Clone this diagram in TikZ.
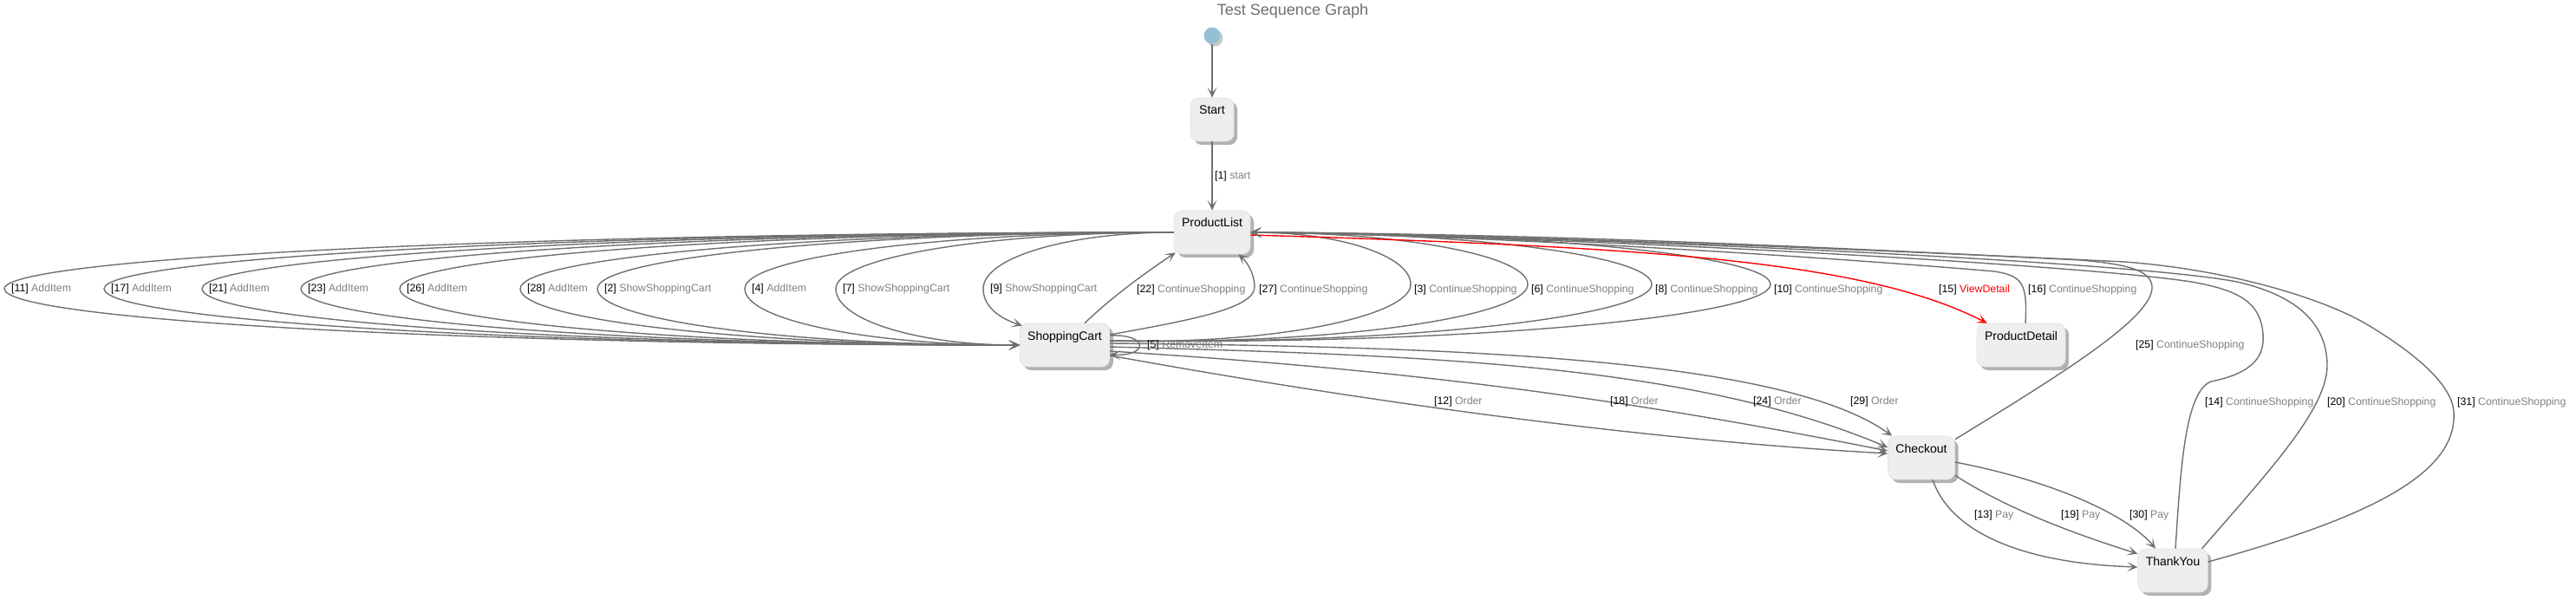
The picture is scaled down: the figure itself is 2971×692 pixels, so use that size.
\documentclass[tikz,border=0pt]{standalone}
\usepackage{fontspec}
\setmainfont{Liberation Sans}
\usetikzlibrary{calc,arrows.meta,shadows}
\definecolor{linegray}{RGB}{112,112,112}
\definecolor{wordgray}{RGB}{128,128,128}
\definecolor{boxfill}{RGB}{238,238,238}
\definecolor{boxline}{RGB}{226,226,226}
\definecolor{shadowgray}{RGB}{165,165,165}
\definecolor{initblue}{RGB}{148,192,214}
\definecolor{titlegray}{RGB}{110,110,110}

\begin{document}
\begin{tikzpicture}[x=1pt,y=-1pt,
  trans/.style={draw=linegray,line width=1.4pt,-{Stealth[length=12pt,width=11pt,inset=6.5pt]}},
  stbox/.style={rectangle,rounded corners=9pt,fill=boxfill,draw=boxline,line width=0.6pt,
    minimum width=50pt,inner xsep=9pt,inner ysep=5pt,text height=14pt,text depth=26pt,
    font=\fontsize{14}{16}\selectfont,
    drop shadow={shadow xshift=4pt,shadow yshift=-4pt,fill=shadowgray,opacity=0.85}},
  elabel/.style={font=\fontsize{12.3}{14}\selectfont,inner sep=0pt,anchor=west}]
  \newcommand{\elab}[2]{[#1] \textcolor{wordgray}{#2}}
  \useasboundingbox (0,0) rectangle (2971,692);

  \node[font=\fontsize{18}{20}\selectfont,text=titlegray] (gTitle) at (1491,13) {Test Sequence Graph};
  \node[circle,fill=initblue,minimum size=19pt,inner sep=0pt,
    drop shadow={shadow xshift=3pt,shadow yshift=-3pt,fill=shadowgray,opacity=0.6}] (sInit) at (1398,41) {};
  \node[stbox] (sStart) at (1398,138) {Start};
  \node[stbox] (sList) at (1398,268) {ProductList};
  \node[stbox] (sCart) at (1228,398) {ShoppingCart};
  \node[stbox] (sDetail) at (2331,398) {ProductDetail};
  \node[stbox] (sCheckout) at (2216,528) {Checkout};
  \node[stbox] (sThanks) at (2506,658) {ThankYou};

  \draw[trans] (sInit) -- (sStart);
  \draw[trans] (sStart) -- (sList);
  \node[elabel] (l1) at (1401,203) {\elab{1}{start}};

  \foreach \xl/\nr/\wrd in {5/11/AddItem,120/17/AddItem,233/21/AddItem,347/23/AddItem,461/26/AddItem,
      600/28/AddItem,689/2/ShowShoppingCart,859/4/AddItem,964/7/ShowShoppingCart}{
    \draw[trans] (sList.west) .. controls ($(sList.west)!0.552!(\xl,268)$) and (\xl,297) .. (\xl,333)
      .. controls (\xl,369) and ($(sCart.west)!0.552!(\xl,398)$) .. (sCart.west);
    \node[elabel] (l\nr) at (\xl+8,333) {\elab{\nr}{\wrd}};
  }
  \draw[trans] (sList.west) .. controls ($(sList.west)!0.552!(1134,268)$) and (1134,297) .. (1134,333)
    .. controls (1134,352) and (1150,366) .. ($(sCart.north west)+(3,3)$);
  \node[elabel] (l9) at (1142,333) {\elab{9}{ShowShoppingCart}};

  \draw[trans] ($(sCart.north)+(23,0)$) .. controls (1285,340) and (1325,312) .. ($(sList.south west)+(2,-2)$);
  \node[elabel] (l22) at (1311,334) {\elab{22}{ContinueShopping}};
  \draw[trans] ($(sCart.east)+(0,-12)$) .. controls (1380,368) and (1448,355) .. (1447,330)
    .. controls (1446,312) and (1436,300) .. ($(sList.south east)+(-14,0)$);
  \node[elabel] (l27) at (1452,334) {\elab{27}{ContinueShopping}};

  \foreach \xr/\nr in {1627/3,1762/6,1905/8,2042/10}{
    \draw[trans] ($(sCart.east)+(0,-5)$) .. controls ($(sCart.east)!0.552!(\xr,398)$) and (\xr,364) .. (\xr,328)
      .. controls (\xr,295) and ($(sList.east)!0.552!(\xr,268)$) .. (sList.east);
    \node[elabel] (l\nr) at (\xr+4,334) {\elab{\nr}{ContinueShopping}};
  }

  \draw[trans] ($(sCart.east)+(0,-11)$) .. controls (1325,385) and (1325,411) .. ($(sCart.east)+(0,11)$);
  \node[elabel] (l5) at (1323,398) {\elab{5}{RemoveItem}};

  \draw[trans,draw=red] ($(sList.east)+(0,3)$) .. controls (1900,285) and (2150,300) .. ($(sDetail.north west)+(12,0)$);
  \node[elabel] (l15) at (2236,334) {[15] \textcolor{red}{ViewDetail}};
  \draw[trans] ($(sDetail.north)+(5,0)$) .. controls (2338,330) and (2335,318) .. (2300,313)
    .. controls (2150,300) and (1750,272) .. (sList.east);
  \node[elabel] (l16) at (2339,334) {\elab{16}{ContinueShopping}};

  \draw[trans] ($(sCheckout.north east)+(0,4)$) .. controls (2380,430) and (2485,365) .. (2482,330)
    .. controls (2480,312) and (2455,305) .. (2400,300) .. controls (2100,285) and (1800,270) .. (sList.east);
  \node[elabel] (l25) at (2463,398) {\elab{25}{ContinueShopping}};
  \draw[trans] ($(sThanks.north)+(3,0)$) .. controls (2515,540) and (2520,452) .. (2550,440)
    .. controls (2600,430) and (2612,410) .. (2610,385) .. controls (2607,350) and (2585,335) .. (2527,325)
    .. controls (2400,305) and (1800,272) .. (sList.east);
  \node[elabel] (l14) at (2543,464) {\elab{14}{ContinueShopping}};
  \draw[trans] ($(sThanks.north east)+(-7,0)$) .. controls (2620,540) and (2685,470) .. (2684,420)
    .. controls (2683,370) and (2645,340) .. (2580,325) .. controls (2450,300) and (1800,272) .. (sList.east);
  \node[elabel] (l20) at (2684,464) {\elab{20}{ContinueShopping}};
  \draw[trans] ($(sThanks.east)+(0,-10)$) .. controls (2720,600) and (2835,550) .. (2830,475)
    .. controls (2828,445) and (2790,410) .. (2728,373) .. controls (2670,340) and (2560,310) .. (2450,302)
    .. controls (2100,285) and (1700,270) .. (sList.east);
  \node[elabel] (l31) at (2834,464) {\elab{31}{ContinueShopping}};

  \draw[trans] ($(sCart.east)+(0,12)$) .. controls (1500,450) and (1850,505) .. ($(sCheckout.west)+(0,-5)$);
  \node[elabel] (l12) at (1654,463) {\elab{12}{Order}};
  \draw[trans] ($(sCart.east)+(0,7)$) .. controls (1600,425) and (1850,455) .. ($(sCheckout.west)+(0,-8)$);
  \node[elabel] (l18) at (1857,463) {\elab{18}{Order}};
  \draw[trans] ($(sCart.east)+(0,2)$) .. controls (1650,410) and (1950,420) .. ($(sCheckout.west)+(0,-12)$);
  \node[elabel] (l24) at (2022,463) {\elab{24}{Order}};
  \draw[trans] ($(sCart.east)+(0,-2)$) .. controls (1700,400) and (2060,415) .. ($(sCheckout.north west)+(5,0)$);
  \node[elabel] (l29) at (2134,463) {\elab{29}{Order}};

  \draw[trans] ($(sCheckout.south)+(13,0)$) .. controls (2250,615) and (2335,650) .. ($(sThanks.west)+(0,-4)$);
  \node[elabel] (l13) at (2277,594) {\elab{13}{Pay}};
  \draw[trans] ($(sCheckout.south east)+(0,-5)$) .. controls (2320,590) and (2400,618) .. ($(sThanks.north west)+(0,6)$);
  \node[elabel] (l19) at (2377,594) {\elab{19}{Pay}};
  \draw[trans] ($(sCheckout.east)+(0,5)$) .. controls (2370,555) and (2455,595) .. ($(sThanks.north)+(-20,0)$);
  \node[elabel] (l30) at (2456,594) {\elab{30}{Pay}};
\end{tikzpicture}
\end{document}
